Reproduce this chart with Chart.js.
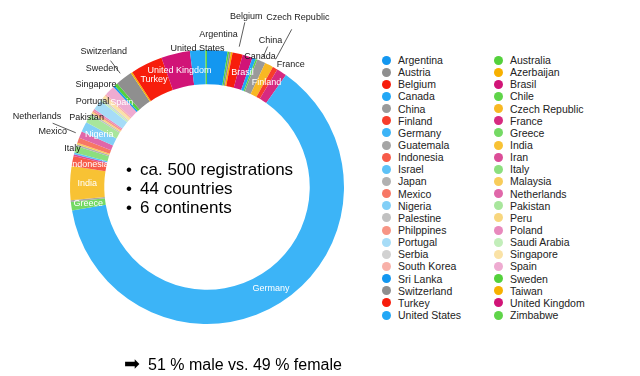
<!DOCTYPE html>
<html>
<head>
<meta charset="utf-8">
<script src="https://cdn.jsdelivr.net/npm/chart.js@4/dist/chart.umd.min.js"></script>
<style>
  html, body { margin: 0; padding: 0; background: #fff; }
  body { width: 640px; height: 376px; position: relative; overflow: hidden;
         font-family: "Liberation Sans", Arial, Helvetica, sans-serif; }
  #chartBox { position: absolute; left: 0; top: 0; width: 370px; height: 376px; }
  #legend { position: absolute; left: 382px; top: 54px; display: grid;
            grid-template-columns: 112px 112px; grid-auto-rows: 12.15px;
            font-size: 10.5px; color: #222; }
  .item { display: flex; align-items: center; white-space: nowrap; }
  .dot { width: 9px; height: 9px; border-radius: 50%; margin-right: 7px; flex: none; }
  #facts { position: absolute; left: 126px; top: 160px; font-size: 17px; line-height: 19px; color: #000; }
  #facts span { display: inline-block; width: 14px; }
  #note { position: absolute; left: 124px; top: 354px; font-size: 16px; line-height: 18px; color: #000; white-space: nowrap; }
  #note span { display: inline-block; width: 24px; font-size: 19px; font-family: "DejaVu Sans", sans-serif; }
</style>
</head>
<body>
<div id="chartBox"><canvas id="donut"></canvas></div>
<div id="legend"></div>
<div id="facts">
  <div><span>•</span>ca. 500 registrations</div>
  <div><span>•</span>44 countries</div>
  <div><span>•</span>6 continents</div>
</div>
<div id="note"><span>➡</span>51 % male vs. 49 % female</div>
<script>
// registrations per country (alphabetical, as in the legend)
const countries = ['Argentina', 'Australia', 'Austria', 'Azerbaijan', 'Belgium', 'Brasil', 'Canada', 'Chile',
  'China', 'Czech Republic', 'Finland', 'France', 'Germany', 'Greece', 'Guatemala', 'India', 'Indonesia',
  'Iran', 'Israel', 'Italy', 'Japan', 'Malaysia', 'Mexico', 'Netherlands', 'Nigeria', 'Pakistan',
  ' Palestine', 'Peru', 'Philppines', 'Poland', 'Portugal', 'Saudi Arabia', 'Serbia', 'Singapore',
  'South Korea', 'Spain', 'Sri Lanka', 'Sweden', 'Switzerland', 'Taiwan', 'Turkey', 'United Kingdom',
  'United States', 'Zimbabwe'];
const registrations = [12, 1, 1, 1, 6, 6, 2, 1,
  5, 5, 3, 6, 313, 5, 1, 20, 6,
  1, 1, 4, 1, 1, 3, 4, 6, 5,
  1, 1, 1, 1, 6, 1, 1, 2,
  1, 6, 1, 2, 10, 1, 19, 17,
  9, 1];

const colors = [
  '#1397f0', '#54d13c', '#8f8f8f', '#f7b000', '#f71d0c', '#d11477',
  '#22a7f6', '#5fd449', '#9a9a9a', '#f8b823', '#f73d2b', '#d72a80',
  '#3cb4f7', '#74d964', '#a5a5a5', '#f8c234', '#f75b49', '#db4d97',
  '#5ec2f7', '#8cdf7e', '#b1b1b1', '#f8cc5a', '#f77765', '#e067a9',
  '#82cff7', '#a8e69c', '#c1c1c1', '#f8d67e', '#f79585', '#e889bd',
  '#a6dcf7', '#c2eeba', '#d1d1d1', '#fae2a6', '#f8b1a9', '#eeabd1',
  '#1397f0', '#54d13c', '#8f8f8f', '#f7b000', '#f71d0c', '#d11477',
  '#22a7f6', '#5fd449'
];

// labels drawn inside the ring
const insideLabels = ['Germany', 'Greece', 'India', 'Indonesia', 'Nigeria', 'Spain', 'Turkey',
  'United Kingdom', 'Brasil', 'Finland'];
// labels outside the ring: distance beyond the outer edge, optional leader line, angle tweak (deg)
const outsideLabels = {
  'Argentina': { dr: 16 },
  'Belgium': { dr: 38, line: [7, 32] },
  'Czech Republic': { dr: 55, line: [8, 42], da: 1.3 },
  'China': { dr: 23, line: [5, 16] },
  'Canada': { dr: 4, da: 2 },
  'France': { dr: 11, da: 1.4 },
  'United States': { dr: 2 },
  'Switzerland': { dr: 33, line: [6, 22] },
  'Sweden': { dr: 21 },
  'Singapore': { dr: 14, da: 1.5 },
  'Portugal': { dr: 6 },
  'Pakistan': { dr: 2 },
  'Netherlands': { dr: 47, line: [5, 30] },
  'Mexico': { dr: 27 },
  'Italy': { dr: 3 }
};

const sliceLabels = {
  id: 'sliceLabels',
  afterDatasetsDraw(chart) {
    const ctx = chart.ctx;
    const arcs = chart.getDatasetMeta(0).data;
    ctx.save();
    ctx.font = '9px "Liberation Sans", Arial, sans-serif';
    ctx.textAlign = 'center';
    ctx.textBaseline = 'middle';
    arcs.forEach((arc, i) => {
      const name = chart.data.labels[i];
      const p = arc.getProps(['x', 'y', 'startAngle', 'endAngle', 'innerRadius', 'outerRadius'], true);
      const mid = (p.startAngle + p.endAngle) / 2;
      if (insideLabels.includes(name)) {
        const r = (p.innerRadius + p.outerRadius) / 2;
        ctx.fillStyle = '#fff';
        ctx.fillText(name, p.x + Math.cos(mid) * r, p.y + Math.sin(mid) * r);
      }
      const o = outsideLabels[name];
      if (o) {
        const a = mid + (o.da || 0) * Math.PI / 180;
        if (o.line) {
          ctx.strokeStyle = '#333';
          ctx.lineWidth = 0.8;
          ctx.beginPath();
          ctx.moveTo(p.x + Math.cos(a) * (p.outerRadius + o.line[0]), p.y + Math.sin(a) * (p.outerRadius + o.line[0]));
          ctx.lineTo(p.x + Math.cos(a) * (p.outerRadius + o.line[1]), p.y + Math.sin(a) * (p.outerRadius + o.line[1]));
          ctx.stroke();
        }
        const r = p.outerRadius + o.dr;
        ctx.fillStyle = '#1a1a1a';
        ctx.fillText(name, p.x + Math.cos(a) * r, p.y + Math.sin(a) * r);
      }
    });
    ctx.restore();
  }
};

const htmlLegend = {
  id: 'htmlLegend',
  afterUpdate(chart) {
    const box = document.getElementById('legend');
    box.innerHTML = '';
    const items = chart.options.plugins.legend.labels.generateLabels(chart);
    items.forEach(item => {
      const row = document.createElement('div');
      row.className = 'item';
      const dot = document.createElement('span');
      dot.className = 'dot';
      dot.style.background = item.fillStyle;
      row.appendChild(dot);
      row.appendChild(document.createTextNode(item.text));
      box.appendChild(row);
    });
  }
};

const ctx = document.getElementById('donut').getContext('2d');
const donut = new Chart(ctx, {
  type: 'doughnut',
  data: {
    labels: countries,
    datasets: [{
      data: registrations,
      backgroundColor: colors,
      borderWidth: 0
    }]
  },
  options: {
    responsive: true,
    maintainAspectRatio: false,
    animation: false,
    cutout: '75%',
    layout: { padding: { left: 70, top: 50, right: 26, bottom: 52 } },
    plugins: {
      legend: { display: false },
      tooltip: { enabled: false }
    }
  },
  plugins: [sliceLabels, htmlLegend]
});
</script>
</body>
</html>
